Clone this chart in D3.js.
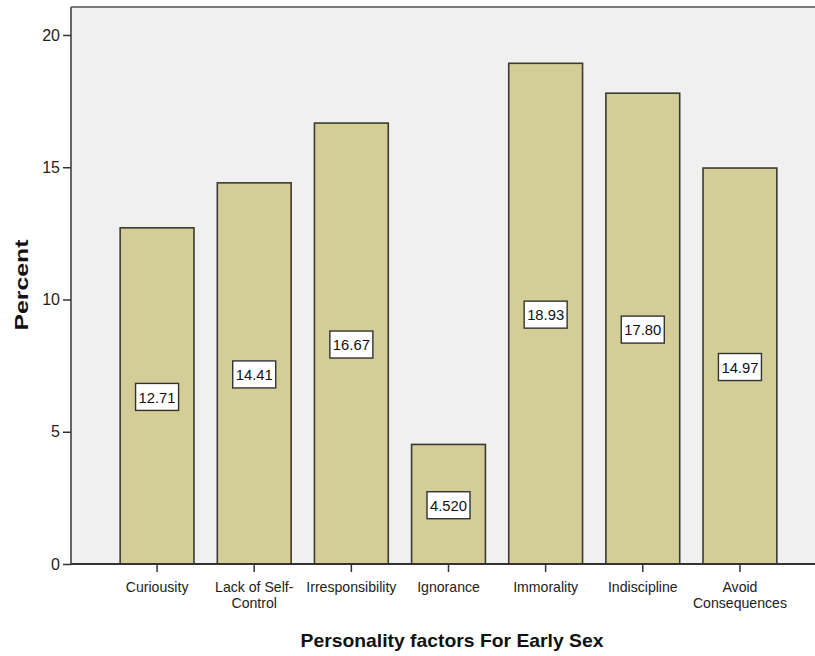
<!DOCTYPE html>
<html>
<head>
<meta charset="utf-8">
<script src="https://cdn.jsdelivr.net/npm/d3@7"></script>
<style>
  html, body { margin: 0; padding: 0; background: #ffffff; }
  svg { display: block; font-family: "Liberation Sans", Arial, sans-serif; }
</style>
</head>
<body>
<svg id="chart" width="815" height="656"></svg>
<script>
// Personality factors for early sex — percent of respondents
const categories = ["Curiousity", "Lack of Self-Control", "Irresponsibility", "Ignorance",
                    "Immorality", "Indiscipline", "Avoid Consequences"];
const tickLabels = [["Curiousity"], ["Lack of Self-", "Control"], ["Irresponsibility"], ["Ignorance"],
                    ["Immorality"], ["Indiscipline"], ["Avoid", "Consequences"]];
const percents = [12.71, 14.41, 16.67, 4.52, 18.93, 17.80, 14.97];
const valueLabels = ["12.71", "14.41", "16.67", "4.520", "18.93", "17.80", "14.97"];
const yTicks = [0, 5, 10, 15, 20];
const xTitle = "Personality factors For Early Sex";
const yTitle = "Percent";

const svg = d3.select("#chart");
const plot = { left: 71, top: 7, right: 826, bottom: 564 };

const x = d3.scaleBand()
  .domain(categories)
  .range([plot.left, plot.right])
  .paddingInner(0.24)
  .paddingOuter(0.506);

const y = d3.scaleLinear()
  .domain([0, 20])
  .range([plot.bottom, 35]);

// plot background
svg.append("rect")
  .attr("x", plot.left).attr("y", plot.top)
  .attr("width", plot.right - plot.left).attr("height", plot.bottom - plot.top)
  .attr("fill", "#f0f0f0");

// frame: top and left edges
svg.append("line")
  .attr("x1", plot.left).attr("x2", 815)
  .attr("y1", plot.top).attr("y2", plot.top)
  .attr("stroke", "#7a7a7a").attr("stroke-width", 2.2);
svg.append("line")
  .attr("x1", plot.left).attr("x2", plot.left)
  .attr("y1", plot.top).attr("y2", plot.bottom)
  .attr("stroke", "#666666").attr("stroke-width", 2);

// bars
svg.append("g").selectAll("rect")
  .data(categories)
  .join("rect")
  .attr("x", d => x(d))
  .attr("y", (d, i) => y(percents[i]))
  .attr("width", x.bandwidth())
  .attr("height", (d, i) => y(0) - y(percents[i]))
  .attr("fill", "#d3ce97")
  .attr("stroke", "#3c3a30")
  .attr("stroke-width", 1.6);

// value labels in the middle of each bar
const lab = svg.append("g").selectAll("g")
  .data(categories)
  .join("g")
  .attr("transform", (d, i) =>
    `translate(${x(d) + x.bandwidth() / 2},${(y(percents[i]) + y(0)) / 2 + 1})`);
lab.append("rect")
  .attr("x", -21.5).attr("y", -13.5)
  .attr("width", 43).attr("height", 27)
  .attr("fill", "#ffffff")
  .attr("stroke", "#333333").attr("stroke-width", 1.4);
lab.append("text")
  .attr("text-anchor", "middle")
  .attr("dy", "0.36em")
  .attr("font-size", 15.5)
  .attr("fill", "#111")
  .attr("textLength", 37).attr("lengthAdjust", "spacingAndGlyphs")
  .text((d, i) => valueLabels[i]);

// y axis
const yAxis = svg.append("g")
  .attr("transform", `translate(${plot.left},0)`)
  .call(d3.axisLeft(y).tickValues(yTicks).tickSize(8).tickPadding(3));
yAxis.select(".domain").remove();
yAxis.selectAll(".tick line").attr("stroke", "#333").attr("stroke-width", 1.5);
yAxis.selectAll(".tick text")
  .attr("font-size", 16).attr("fill", "#222")
  .attr("font-family", "Liberation Sans, Arial, sans-serif");

// x axis
const xAxis = svg.append("g")
  .attr("transform", `translate(0,${plot.bottom})`)
  .call(d3.axisBottom(x).tickSize(8).tickFormat(""));
xAxis.select(".domain")
  .attr("d", `M${plot.left},0H815`)
  .attr("stroke", "#333").attr("stroke-width", 2);
xAxis.selectAll(".tick line").attr("stroke", "#333").attr("stroke-width", 1.5);
xAxis.selectAll(".tick").each(function (d, i) {
  const t = d3.select(this).append("text")
    .attr("fill", "#222")
    .attr("font-size", 15)
    .attr("text-anchor", "middle")
    .attr("font-family", "Liberation Sans, Arial, sans-serif");
  tickLabels[i].forEach((line, k) => {
    const s = t.append("tspan").attr("x", 0).attr("y", 28 + k * 16).text(line);
    // keep the taller glyphs at their usual width
    const w = s.node().getComputedTextLength();
    s.attr("textLength", w * 0.94).attr("lengthAdjust", "spacingAndGlyphs");
  });
});

// axis titles
svg.append("text")
  .attr("x", 452).attr("y", 647)
  .attr("text-anchor", "middle")
  .attr("font-size", 19).attr("font-weight", "bold")
  .attr("fill", "#111")
  .attr("textLength", 303).attr("lengthAdjust", "spacingAndGlyphs")
  .text(xTitle);

svg.append("text")
  .attr("transform", "translate(28,285) rotate(-90)")
  .attr("text-anchor", "middle")
  .attr("font-size", 18).attr("font-weight", "bold")
  .attr("fill", "#111")
  .attr("textLength", 91).attr("lengthAdjust", "spacingAndGlyphs")
  .text(yTitle);
</script>
</body>
</html>
